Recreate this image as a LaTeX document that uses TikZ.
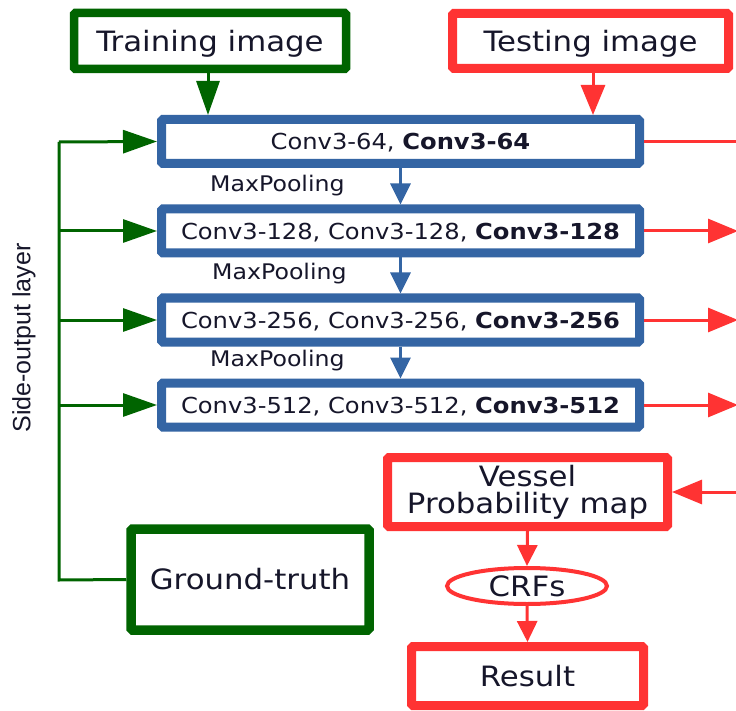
\documentclass[tikz,border=0pt]{standalone}
\usepackage{fontspec}
\setmainfont[FakeStretch=1.1]{DejaVu Sans}
\newfontfamily\labelfont{Liberation Sans}
\usetikzlibrary{arrows.meta,shapes.geometric}

\definecolor{gtgreen}{HTML}{006400}
\definecolor{testred}{HTML}{FF3333}
\definecolor{netblue}{HTML}{3465A4}
\definecolor{inktext}{HTML}{16162A}

\tikzset{
  box/.style={draw, rectangle, rounded corners=1.5pt, inner sep=0pt, text=inktext, align=center},
  greenbox/.style={box, draw=gtgreen, line width=8.5pt},
  redbox/.style={box, draw=testred, line width=9pt},
  convbox/.style={box, draw=netblue, line width=9pt, minimum width=478pt, minimum height=44pt, text depth=0pt, font=\fontsize{22}{26}\selectfont},
  bigtext/.style={font=\fontsize{28}{27}\selectfont},
  gline/.style={draw=gtgreen, line width=3pt},
  garrow/.style={gline, -{Triangle[length=34pt,width=23pt]}},
  rline/.style={draw=testred, line width=3pt},
  rarrow/.style={rline, -{Triangle[length=30pt,width=24pt]}},
  rsmall/.style={rline, -{Triangle[length=21pt,width=20pt]}},
  barrow/.style={draw=netblue, line width=3pt, -{Triangle[length=21pt,width=20pt]}},
  poollabel/.style={text=inktext, font=\fontsize{21.5}{24}\selectfont, inner sep=0pt}
}

\begin{document}
\begin{tikzpicture}[x=1pt, y=-1pt]
  \clip (0,0) rectangle (736,711);
  \fill[white] (0,0) rectangle (736,711);

  % inputs
  \node[greenbox, bigtext, text depth=0pt, minimum width=272pt, minimum height=56pt] (train) at (210,41) {Training image};
  \node[redbox, bigtext, text depth=0pt, minimum width=276pt, minimum height=55pt] (test) at (590.5,41) {Testing image};

  % convolution stages
  \node[convbox] (b1) at (400.5,141.5) {Conv3-64, \textbf{Conv3-64}};
  \node[convbox] (b2) at (400.5,231) {Conv3-128, Conv3-128, \textbf{Conv3-128}};
  \node[convbox] (b3) at (400.5,320) {Conv3-256, Conv3-256, \textbf{Conv3-256}};
  \node[convbox] (b4) at (400.5,405) {Conv3-512, Conv3-512, \textbf{Conv3-512}};

  \node[poollabel, anchor=west] (p1) at (210,186) {MaxPooling};
  \node[poollabel, anchor=west] (p2) at (212,274) {MaxPooling};
  \node[poollabel, anchor=west] (p3) at (210,361) {MaxPooling};

  % outputs
  \node[redbox, bigtext, minimum width=280pt, minimum height=69pt] (vessel) at (527.5,492) {Vessel\\Probability map};
  \node[draw=testred, line width=4pt, ellipse, inner sep=0pt, minimum width=160pt, minimum height=36pt, text=inktext, bigtext] (crf) at (527,586) {CRFs};
  \node[redbox, bigtext, minimum width=232pt, minimum height=59pt] (result) at (527.5,676) {Result};
  \node[greenbox, bigtext, line width=9.5pt, minimum width=238pt, minimum height=101pt] (gt) at (250,579.5) {Ground-truth};

  \node[rotate=90, text=inktext, inner sep=0pt, font=\labelfont\fontsize{25}{28}\selectfont] (side) at (24,338) {Side-output layer};

  % helper points for the spine and the right margin
  \coordinate (spinetop) at (59,142);
  \coordinate (spinebot) at (59,580);
  \coordinate (rim) at (738,0);

  % input arrows
  \draw[garrow] ([xshift=-2pt]train.south) -- ([xshift=-2pt]train.south |- b1.north);
  \draw[rarrow] ([xshift=2.5pt]test.south) -- ([xshift=2.5pt]test.south |- b1.north);

  % pooling arrows
  \draw[barrow] (b1.south) -- (b2.north);
  \draw[barrow] (b2.south) -- (b3.north);
  \draw[barrow] (b3.south) -- (b4.north);

  % side-output spine
  \draw[gline] (gt.west) -- (spinebot) -- (spinetop);
  \draw[garrow] (spinetop) -- (b1.west);
  \draw[garrow] (spinebot |- b2.west) -- (b2.west);
  \draw[garrow] (spinebot |- b3.west) -- (b3.west);
  \draw[garrow] (spinebot |- b4.west) -- (b4.west);

  % side outputs to the right
  \draw[rline] (b1.east) -- (b1.east -| rim);
  \draw[rarrow] (b2.east) -- (b2.east -| rim);
  \draw[rarrow] (b3.east) -- (b3.east -| rim);
  \draw[rarrow] (b4.east) -- (b4.east -| rim);
  \draw[rarrow] (vessel.east -| rim) -- (vessel.east);

  % post-processing
  \draw[rsmall] (vessel.south) -- (crf.north);
  \draw[rsmall] (crf.south) -- (result.north);
\end{tikzpicture}
\end{document}
